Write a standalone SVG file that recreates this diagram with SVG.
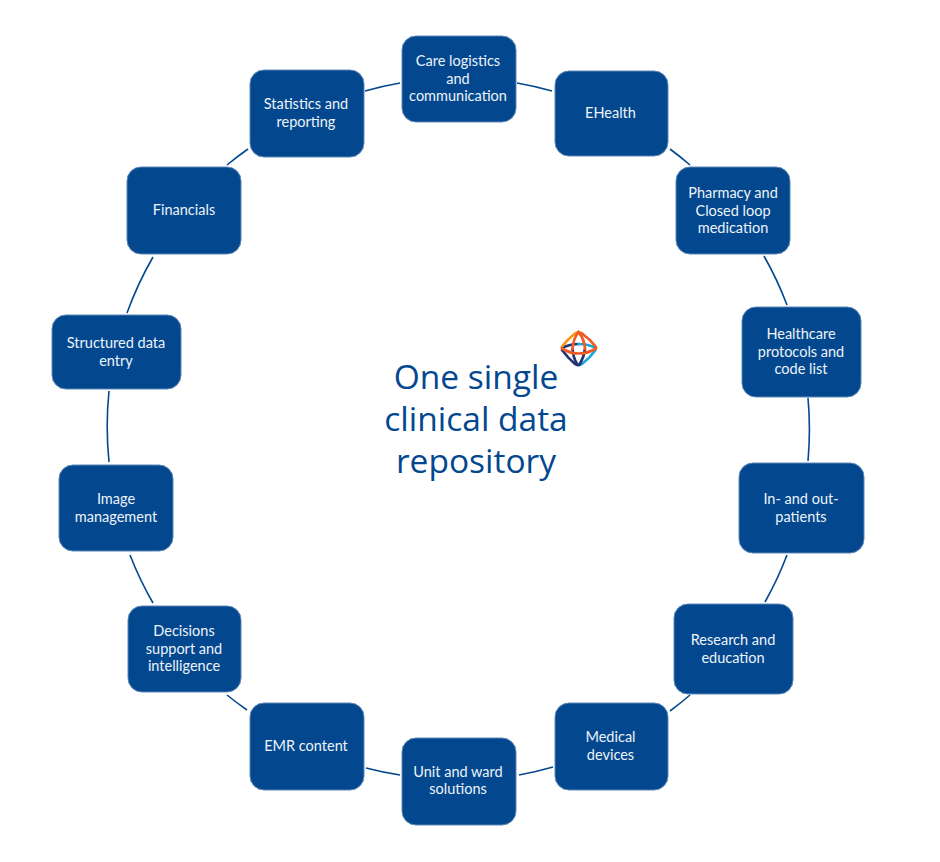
<svg xmlns="http://www.w3.org/2000/svg" width="940" height="862" viewBox="0 0 940 862">
<style>
.n{fill:#03488f;stroke:#5d86b8;stroke-width:1}
.t{font-family:Lato,"Open Sans","Liberation Sans",sans-serif;font-size:14.5px;fill:#eef3f9;text-anchor:middle}
.c{fill:none;stroke:#03488f;stroke-width:1.6}
.h{font-family:"Open Sans","Noto Sans","Liberation Sans",sans-serif;font-size:33.500px;fill:#03488f;text-anchor:middle}
.l{fill:none;stroke-width:2.7;stroke-linecap:round;stroke-linejoin:round}
</style>
<rect width="940" height="862" fill="#fff"/>
<g id="connectors">
<path class="c" d="M517 83A351 351 0 0 1 552 91"/>
<path class="c" d="M670 149A351 351 0 0 1 690 165"/>
<path class="c" d="M764 256A351 351 0 0 1 787 305"/>
<path class="c" d="M808 398A351 351 0 0 1 808 461"/>
<path class="c" d="M787 555A351 351 0 0 1 765 602"/>
<path class="c" d="M690 695A351 351 0 0 1 670 711"/>
<path class="c" d="M553 767A351 351 0 0 1 519 775"/>
<path class="c" d="M400 775A351 351 0 0 1 366 768"/>
<path class="c" d="M247 710A351 351 0 0 1 227 695"/>
<path class="c" d="M153 603A351 351 0 0 1 130 555"/>
<path class="c" d="M109 462A351 351 0 0 1 109 391"/>
<path class="c" d="M127 313A351 351 0 0 1 153 257"/>
<path class="c" d="M227 165A351 351 0 0 1 248 149"/>
<path class="c" d="M365 91A351 351 0 0 1 400 83"/>
</g>
<g id="n-care"><rect class="n" x="402" y="36" width="114" height="86" rx="14"/><text class="t" x="458" y="66">Care logistics</text><text class="t" x="458" y="84">and</text><text class="t" x="458" y="101">communication</text></g>
<g id="n-ehealth"><rect class="n" x="555" y="71" width="113" height="85" rx="14"/><text class="t" x="610.500" y="118">EHealth</text></g>
<g id="n-pharmacy"><rect class="n" x="676" y="167" width="114" height="87" rx="14"/><text class="t" x="733" y="198">Pharmacy and</text><text class="t" x="733" y="216">Closed loop</text><text class="t" x="733" y="233">medication</text></g>
<g id="n-healthcare"><rect class="n" x="742" y="307" width="119" height="90" rx="14"/><text class="t" x="801" y="339">Healthcare</text><text class="t" x="801" y="357">protocols and</text><text class="t" x="801" y="374">code list</text></g>
<g id="n-patients"><rect class="n" x="739" y="463" width="125" height="90" rx="14"/><text class="t" x="801" y="504">In- and out-</text><text class="t" x="801" y="522">patients</text></g>
<g id="n-research"><rect class="n" x="674" y="604" width="119" height="90" rx="14"/><text class="t" x="733" y="645">Research and</text><text class="t" x="733" y="663">education</text></g>
<g id="n-medical"><rect class="n" x="555" y="703" width="113" height="87" rx="14"/><text class="t" x="610.500" y="742">Medical</text><text class="t" x="610.500" y="760">devices</text></g>
<g id="n-unit"><rect class="n" x="402" y="738" width="114" height="87" rx="14"/><text class="t" x="458" y="777">Unit and ward</text><text class="t" x="458" y="794">solutions</text></g>
<g id="n-emr"><rect class="n" x="250" y="703" width="114" height="87" rx="14"/><text class="t" x="306" y="751">EMR content</text></g>
<g id="n-decisions"><rect class="n" x="128" y="606" width="113" height="86" rx="14"/><text class="t" x="184" y="636">Decisions</text><text class="t" x="184" y="654">support and</text><text class="t" x="184" y="671">intelligence</text></g>
<g id="n-image"><rect class="n" x="59" y="465" width="114" height="86" rx="14"/><text class="t" x="116" y="504">Image</text><text class="t" x="116" y="522">management</text></g>
<g id="n-structured"><rect class="n" x="52" y="315" width="129" height="74" rx="14"/><text class="t" x="116" y="348">Structured data</text><text class="t" x="116" y="366">entry</text></g>
<g id="n-financials"><rect class="n" x="127" y="167" width="114" height="87" rx="14"/><text class="t" x="184" y="215">Financials</text></g>
<g id="n-statistics"><rect class="n" x="250" y="70" width="114" height="87" rx="14"/><text class="t" x="306" y="109">Statistics and</text><text class="t" x="306" y="127">reporting</text></g>
<g id="center-title"><text class="h" x="476" y="389">One single</text><text class="h" x="476" y="431">clinical data</text><text class="h" x="476" y="473">repository</text></g>
<g id="logo">
<path class="l" stroke="#24326f" d="M562 348Q570 344 578.500 344"/>
<path class="l" stroke="#1aa7e0" d="M578.500 344Q588 344 596 348"/>
<path class="l" stroke="#1aa7e0" d="M595.500 350Q590 358 582 364Q579 366 577 364"/>
<path class="l" stroke="#24326f" d="M562 350Q568 358 575 364Q578 366 580 364Q584 357 585 349"/>
<path class="l" stroke="#24326f" d="M572.500 349Q573 357 577 364"/>
<path class="l" stroke="#f7941e" d="M562 346.500Q568 339 575 333.500Q578.500 331 582 333.500"/>
<path class="l" stroke="#f15a24" d="M582 333.500Q590 339 596 347"/>
<path class="l" stroke="#f15a24" d="M578.500 332Q573 339 572.500 349"/>
<path class="l" stroke="#f15a24" d="M578.500 332Q584.500 339 585 349"/>
<path class="l" stroke="#f15a24" d="M562 348.500Q570 353.500 578.500 353.500Q588 353.500 596 348.500"/>
</g>
</svg>
